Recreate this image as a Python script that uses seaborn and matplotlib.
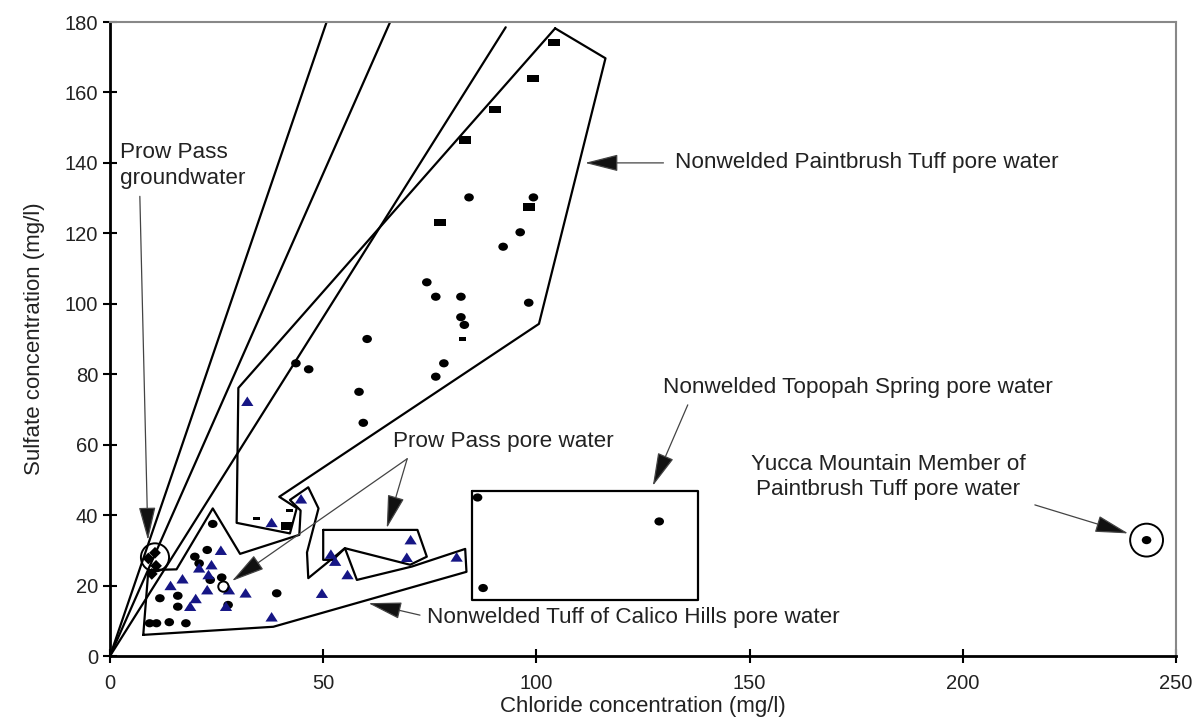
import matplotlib
matplotlib.use("Agg")
import matplotlib.pyplot as plt
import seaborn as sns
from matplotlib.markers import MarkerStyle
from matplotlib.path import Path

sns.set_theme(style="white")
plt.rcParams['font.family'] = ['Liberation Sans', 'DejaVu Sans']

# ---------------- sample data (mg/l) ----------------
# black circles
circle_cl = [84.2, 99.3, 96.2, 92.2, 74.3, 76.4, 82.3, 98.2, 82.3, 83.1, 60.3, 43.6,
             46.6, 78.3, 76.4, 58.4, 59.4,
             86.2, 128.8, 87.5,
             243.1,
             24.1, 22.8, 19.9, 20.9, 26.2, 23.5, 11.7, 15.9, 15.9, 39.1, 27.7,
             9.3, 10.9, 13.9, 17.8]
circle_so4 = [130.2, 130.2, 120.3, 116.2, 106.1, 102.0, 102.0, 100.3, 96.2, 94.0, 90.0, 83.1,
              81.4, 83.1, 79.3, 75.0, 66.2,
              45.0, 38.2, 19.3,
              32.9,
              37.5, 30.1, 28.2, 26.3, 22.3, 21.6, 16.4, 17.1, 14.0, 17.8, 14.5,
              9.3, 9.3, 9.6, 9.3]

# black squares
square_cl = [104.1, 99.2, 90.3, 83.3, 98.2, 77.4, 41.4]
square_so4 = [174.2, 164.0, 155.2, 146.5, 127.4, 123.1, 36.9]

# small dashes
dash_cl = [82.7, 34.4, 42.2]
dash_so4 = [90.0, 39.1, 41.3]

# groundwater samples
gw_cl = [10.55, 9.0, 10.8, 9.8]
gw_so4 = [29.3, 27.7, 25.6, 23.3]

# blue triangles
tri_cl = [32.2, 44.8, 37.9, 70.5, 69.6, 51.8, 52.8, 55.7, 81.3, 49.7, 31.8, 27.9,
          26.0, 20.9, 23.8, 23.1, 17.0, 14.2, 22.8, 20.1, 18.8, 27.2, 37.9]
tri_so4 = [72.2, 44.5, 37.8, 32.9, 27.9, 28.8, 26.8, 23.0, 28.0, 17.7, 17.8, 18.7,
           29.9, 24.9, 25.8, 23.0, 21.8, 19.9, 18.7, 16.2, 14.0, 14.0, 11.0]

# ratio lines from the origin (end points)
ratio_end_cl = [50.8, 65.7, 92.8]
ratio_end_so4 = [180.0, 180.0, 178.5]

# outlined fields
paintbrush_cl = [104.4, 116.2, 100.6, 39.7, 43.8, 42.2, 29.7, 30.1]
paintbrush_so4 = [178.2, 169.7, 94.3, 45.2, 42.0, 34.8, 37.8, 76.1]

calico_cl = [7.8, 38.3, 83.6, 83.3, 70.8, 57.9, 55.1, 46.5, 46.2, 48.9, 46.5, 42.2,
             44.7, 44.4, 30.5, 24.1, 15.6, 9.0]
calico_so4 = [6.0, 8.3, 23.9, 30.4, 25.4, 21.6, 30.6, 22.1, 29.4, 41.9, 47.9, 44.3,
              41.3, 34.4, 29.0, 41.9, 24.6, 24.4]

prowpass_cl = [50.0, 72.1, 74.3, 70.4, 55.1, 52.3, 50.0]
prowpass_so4 = [35.8, 35.8, 28.2, 25.9, 30.6, 27.3, 27.3]

topopah_cl = [84.8, 138.0, 138.0, 84.8]
topopah_so4 = [46.9, 46.9, 15.9, 15.9]

# open rings marking single samples / groups
ring_cl = [10.55, 26.6, 243.1]
ring_so4 = [28.0, 19.7, 32.9]
ring_size = [410, 55, 560]

# ---------------- figure ----------------
fig = plt.figure(figsize=(11.99, 7.24), dpi=100)
ax = fig.add_axes([110 / 1199, 1 - 656 / 724, (1176 - 110) / 1199, (656 - 22) / 724])

line_kw = dict(color="black", linewidth=1.6, sort=False, estimator=None, ax=ax)

for xe, ye in zip(ratio_end_cl, ratio_end_so4):
    sns.lineplot(x=[0, xe], y=[0, ye], **line_kw)

for px, py in [(paintbrush_cl, paintbrush_so4), (calico_cl, calico_so4),
               (prowpass_cl, prowpass_so4), (topopah_cl, topopah_so4)]:
    sns.lineplot(x=px + px[:1], y=py + py[:1], **line_kw)

ellipse = MarkerStyle(Path.unit_circle().transformed(
    matplotlib.transforms.Affine2D().scale(1.0, 0.85)))
rect = MarkerStyle(Path([(-1, -0.65), (1, -0.65), (1, 0.65), (-1, 0.65), (-1, -0.65)]))
thin = MarkerStyle(Path([(-1, -0.45), (1, -0.45), (1, 0.45), (-1, 0.45), (-1, -0.45)]))
tri = MarkerStyle(Path([(-1, -0.7), (1, -0.7), (0, 0.85), (-1, -0.7)]))

sns.scatterplot(x=circle_cl, y=circle_so4, marker=ellipse, s=48, color="black",
                edgecolor="none", ax=ax, zorder=3)
sns.scatterplot(x=square_cl, y=square_so4, marker=rect, s=70, color="black",
                edgecolor="none", ax=ax, zorder=3)
sns.scatterplot(x=dash_cl, y=dash_so4, marker=thin, s=26, color="black",
                edgecolor="none", ax=ax, zorder=3)
sns.scatterplot(x=gw_cl, y=gw_so4, marker="D", s=36, color="black",
                edgecolor="none", ax=ax, zorder=3)
sns.scatterplot(x=tri_cl, y=tri_so4, marker=tri, s=78, color="#161685",
                edgecolor="none", ax=ax, zorder=3)
for rx, ry, rs in zip(ring_cl, ring_so4, ring_size):
    sns.scatterplot(x=[rx], y=[ry], marker="o", s=rs, facecolor="none",
                    edgecolor="black", linewidth=1.4, ax=ax, zorder=4)

# ---------------- annotations ----------------
arrow = dict(arrowstyle="-|>,head_length=1.5,head_width=0.38", mutation_scale=14,
             fc="#111111", ec="#444444", lw=0.9, shrinkA=0, shrinkB=0)
txt = dict(fontsize=16.2, color="#222222")

ax.annotate("Nonwelded Paintbrush Tuff pore water", xy=(132.5, 140.0),
            va="center", ha="left", **txt)
ax.annotate("", xy=(111.4, 140.0), xytext=(129.8, 140.0), arrowprops=arrow)
ax.annotate("Prow Pass\ngroundwater", xy=(2.3, 139.3),
            va="center", ha="left", linespacing=1.3, **txt)
ax.annotate("", xy=(8.9, 32.9), xytext=(7.0, 130.5), arrowprops=arrow)
ax.annotate("Prow Pass pore water", xy=(66.4, 60.8), va="center", ha="left", **txt)
ax.annotate("", xy=(64.9, 36.3), xytext=(69.7, 56.0), arrowprops=arrow)
ax.annotate("", xy=(28.6, 21.3), xytext=(69.7, 56.0), arrowprops=arrow)
ax.annotate("Nonwelded Topopah Spring pore water", xy=(129.7, 76.1),
            va="center", ha="left", **txt)
ax.annotate("", xy=(127.3, 48.3), xytext=(135.5, 71.3), arrowprops=arrow)
ax.annotate("Yucca Mountain Member of\nPaintbrush Tuff pore water", xy=(182.5, 50.8),
            va="center", ha="center", linespacing=1.25, **txt)
ax.annotate("", xy=(238.8, 34.8), xytext=(216.9, 42.9), arrowprops=arrow)
ax.annotate("Nonwelded Tuff of Calico Hills pore water", xy=(74.3, 10.8),
            va="center", ha="left", **txt)
ax.annotate("", xy=(60.6, 15.0), xytext=(72.7, 11.6), arrowprops=arrow)

# ---------------- axes styling ----------------
ax.set_xlim(0, 250)
ax.set_ylim(0, 180)
ax.set_xticks(range(0, 251, 50))
ax.set_yticks(range(0, 181, 20))
ax.set_xlabel("Chloride concentration (mg/l)", fontsize=16, color="#222222", labelpad=2)
ax.set_ylabel("Sulfate concentration (mg/l)", fontsize=16, color="#222222", labelpad=14)
ax.tick_params(direction="inout", length=10, width=1.5, labelsize=14.5,
               labelcolor="#222222", color="black", left=True, bottom=True)
ax.tick_params(axis="x", pad=8)
for side in ("left", "bottom"):
    ax.spines[side].set_color("black")
    ax.spines[side].set_linewidth(2)
for side in ("top", "right"):
    ax.spines[side].set_color("#888888")
    ax.spines[side].set_linewidth(1.5)
ax.set_facecolor("white")
fig.patch.set_facecolor("white")

fig.savefig("out.png", dpi=100, facecolor="white")
